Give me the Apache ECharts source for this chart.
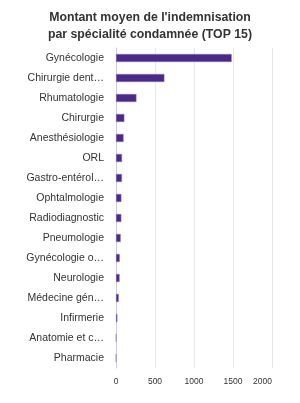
<!DOCTYPE html>
<html lang="fr">
<head>
    <meta charset="UTF-8">
    <title>Montant moyen de l'indemnisation</title>
    <script src="https://cdn.jsdelivr.net/npm/echarts@6/dist/echarts.min.js"></script>
    <style>
        html, body { margin: 0; padding: 0; background: #fff; }
    </style>
</head>
<body>
<div id="main" style="width: 300px;height:403px;"></div>
<script type="text/javascript">
    // spécialités (de haut en bas, libellés tels qu'affichés) et montants moyens
    var specialites = ['Gynécologie', 'Chirurgie dent…', 'Rhumatologie', 'Chirurgie', 'Anesthésiologie',
        'ORL', 'Gastro-entérol…', 'Ophtalmologie', 'Radiodiagnostic', 'Pneumologie',
        'Gynécologie o…', 'Neurologie', 'Médecine gén…', 'Infirmerie',
        'Anatomie et c…', 'Pharmacie'];
    var montants = [1483, 620, 262, 107, 97, 77, 76, 69, 68, 60, 48, 46, 35, 18, 2, 0];
    var xTicks = [0, 500, 1000, 1500, 2000];

    var myChart = echarts.init(document.getElementById('main'));
    myChart.setOption({
        textStyle: { fontFamily: 'Liberation Sans, Arial, sans-serif' },
        title: {
            text: "Montant moyen de l'indemnisation\npar spécialité condamnée (TOP 15)",
            left: 'center',
            top: 4,
            textStyle: { fontSize: 12.3, fontWeight: 'bold', color: '#333', lineHeight: 17 }
        },
        grid: { left: 116, right: 28, top: 48, bottom: 35 },
        xAxis: {
            type: 'value',
            min: xTicks[0],
            max: xTicks[xTicks.length - 1],
            interval: 500,
            axisLine: { show: false },
            axisTick: { show: false },
            axisLabel: {
                fontSize: 8.5, color: '#333', alignMaxLabel: 'right', margin: 9,
                formatter: function (v) { return String(v); }
            },
            splitLine: { lineStyle: { color: '#e6e6e6' } }
        },
        yAxis: {
            type: 'category',
            inverse: true,
            data: specialites,
            axisLine: { lineStyle: { color: '#ccd' } },
            axisTick: { length: 5, lineStyle: { color: '#ccd' } },
            axisLabel: { fontSize: 10.5, color: '#333', margin: 12 }
        },
        series: [{
            type: 'bar',
            data: montants,
            barWidth: '40%',
            itemStyle: { color: '#4b2a87', borderColor: '#8c7ab8', borderWidth: 0.5 }
        }]
    });
</script>
</body>
</html>
